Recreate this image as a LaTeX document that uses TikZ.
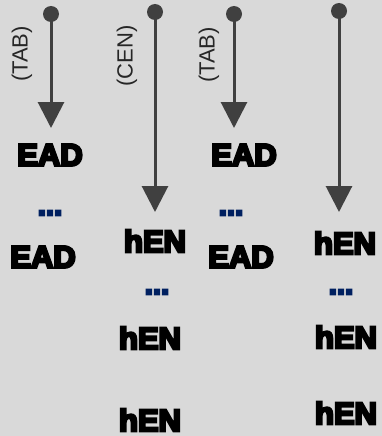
\documentclass[tikz,border=0pt]{standalone}
\usepackage{fontspec}
\setmainfont{Liberation Sans}
\newfontfamily\heavyfont[FakeBold=8]{Liberation Sans Bold}
\usetikzlibrary{arrows.meta}
\definecolor{bgc}{HTML}{D9D9D9}
\definecolor{arrc}{HTML}{404040}
\definecolor{navy}{HTML}{002060}
\tikzset{
  dotnode/.style={circle,fill=arrc,inner sep=0pt,minimum size=16pt},
  arr/.style={draw=arrc,line width=3pt,-{Triangle[width=26pt,length=26pt]}},
  big/.style={inner sep=0pt,font=\heavyfont\fontsize{31}{33}\selectfont},
  dots/.style={inner sep=0pt,text=navy,font=\heavyfont\fontsize{29}{31}\selectfont},
  tag/.style={inner sep=0pt,rotate=90,text=black!85,font=\fontsize{22}{24}\selectfont},
}
\begin{document}
\begin{tikzpicture}[x=1pt,y=-1pt]
\fill[bgc] (0,0) rectangle (382,436);
\useasboundingbox (0,0) rectangle (382,436);
% column 1
\node[dotnode] (d1) at (51,14) {};
\coordinate (t1) at (51,128);
\draw[arr] (d1.center) -- (t1);
\node[tag] (l1) at (22,54) {(TAB)};
\node[big] (e1) at (50,155) {EAD};
\node[dots] (p1) at (50,213) {...};
\node[big] (e2) at (43,257) {EAD};
% column 2
\node[dotnode] (d2) at (155,12) {};
\coordinate (t2) at (155,212);
\draw[arr] (d2.center) -- (t2);
\node[tag] (l2) at (127,56) {(CEN)};
\node[big] (h1) at (155,241) {hEN};
\node[dots] (p2) at (157,292) {...};
\node[big] (h2) at (150,338) {hEN};
\node[big] (h3) at (150,420) {hEN};
% column 3
\node[dotnode] (d3) at (234,14) {};
\coordinate (t3) at (234,128);
\draw[arr] (d3.center) -- (t3);
\node[tag] (l3) at (209,55) {(TAB)};
\node[big] (e3) at (244,155) {EAD};
\node[dots] (p3) at (231,213) {...};
\node[big] (e4) at (241,257) {EAD};
% column 4
\node[dotnode] (d4) at (339,11) {};
\coordinate (t4) at (339,212);
\draw[arr] (d4.center) -- (t4);
\node[big] (h4) at (345,243) {hEN};
\node[dots] (p4) at (341,292) {...};
\node[big] (h5) at (346,337) {hEN};
\node[big] (h6) at (346,413) {hEN};
\end{tikzpicture}
\end{document}
